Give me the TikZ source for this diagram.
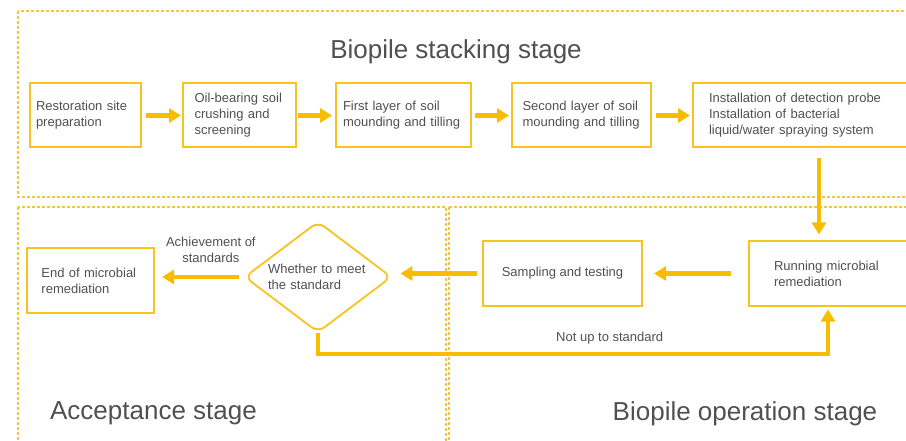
\documentclass[tikz,border=0pt]{standalone}
\usepackage{fontspec}
\setmainfont{Liberation Sans}
\usetikzlibrary{arrows.meta,shapes.geometric}
\definecolor{boxyellow}{HTML}{F9C31F}
\definecolor{flowyellow}{HTML}{F8BD00}
\definecolor{frameyellow}{HTML}{F5C440}
\definecolor{textgray}{HTML}{505050}

\begin{document}
\begin{tikzpicture}[x=1pt, y=-1pt, >={Triangle[length=12pt,width=14pt]},
    every node/.style={text=textgray},
    box/.style={draw=boxyellow, line width=2pt, inner sep=0pt, minimum height=64pt, align=left, font=\fontsize{13}{16}\selectfont},
    decision/.style={diamond, draw=boxyellow, line width=1.8pt, rounded corners=8pt, inner sep=0pt, aspect=1.32, minimum width=147pt, minimum height=111pt, align=left, font=\fontsize{13}{16}\selectfont},
    flow/.style={->, draw=flowyellow, line width=4.5pt},
    stageframe/.style={draw=frameyellow, line width=1.2pt, dash pattern=on 3pt off 2pt},
    note/.style={inner sep=0pt, align=center, font=\fontsize{13}{16}\selectfont},
    stage/.style={inner sep=0pt, font=\fontsize{26}{30}\selectfont}]
      \useasboundingbox (0,0) rectangle (906,441);
      \clip (0,0) rectangle (906,441);

      \draw[stageframe] (18,11) rectangle (930,197);
      \draw[stageframe] (18,207) rectangle (446,460);
      \draw[stageframe] (449,207) rectangle (930,460);

      \node[stage] (stacking) at (456,51.5) {Biopile stacking stage};
      \node[stage] (acceptance) at (153.5,413.5) {Acceptance stage};
      \node[stage] (operation) at (745,413.5) {Biopile operation stage};

      \node[box, minimum width=111pt, text width=99pt] (prep) at (85.5,115.5) {Restoration site\\preparation};
      \node[box, minimum width=113pt, text width=90pt] (crush) at (239.5,115.5) {Oil-bearing soil\\crushing and\\screening};
      \node[box, minimum width=135pt, text width=121pt] (layer1) at (403.5,115.5) {First layer of soil\\mounding and tilling};
      \node[box, minimum width=139pt, text width=118pt] (layer2) at (581.5,115.5) {Second layer of soil\\mounding and tilling};
      \node[box, minimum width=252pt, text width=220pt] (install) at (819,115.5) {Installation of detection probe\\Installation of bacterial\\liquid/water spraying system};

      \node[box, minimum width=158pt, text width=108pt] (run) at (828,273.5) {Running microbial\\remediation};
      \node[box, minimum width=159pt, align=center] (sample) at (562.5,273.5) {Sampling and testing};
      \node[decision, text width=100pt] (judge) at (318,277) {Whether to meet\\the standard};
      \node[box, minimum width=127pt, text width=98pt] (finish) at (90.5,280.5) {End of microbial\\remediation};

      \draw[flow, shorten <=4pt, shorten >=1pt] (prep) -- (crush);
      \draw[flow, shorten <=1pt, shorten >=3pt] (crush) -- (layer1);
      \draw[flow, shorten <=3pt, shorten >=2pt] (layer1) -- (layer2);
      \draw[flow, shorten <=4pt, shorten >=2pt] (layer2) -- (install);
      \draw[flow, shorten <=10pt, shorten >=6pt] (install) -- (install |- run.north);

      \draw[flow, shorten <=17pt, shorten >=11pt] (run) -- (sample);
      \draw[flow, shorten <=5pt, shorten >=8pt] (sample) -- (sample -| judge.east);
      \draw[flow, shorten <=5pt, shorten >=7pt] (judge) -- (judge -| finish.east)
        node[note, pos=0.37, above=12pt] {Achievement of\\standards};
      \draw[flow, shorten >=3pt] (judge) -- (judge |- 0,354) -| (run)
        node[note, pos=0.286, above=8pt] {Not up to standard};
\end{tikzpicture}
\end{document}
